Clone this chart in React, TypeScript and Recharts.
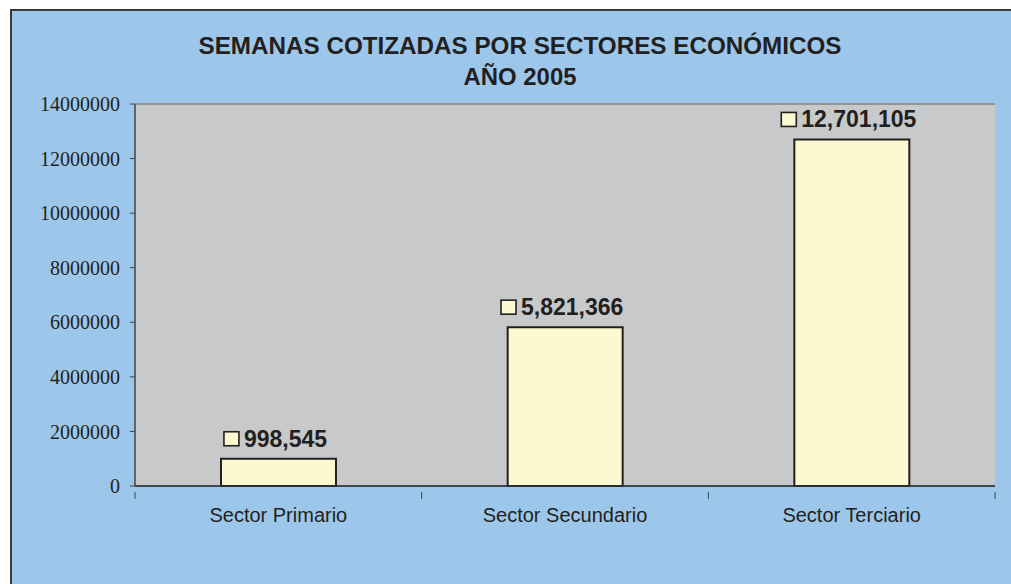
import { BarChart, Bar, XAxis, YAxis, CartesianGrid, LabelList, ReferenceLine } from 'recharts';

const categories = ['Sector Primario', 'Sector Secundario', 'Sector Terciario'];
const semanas = [998545, 5821366, 12701105];
const yTicks = [0, 2000000, 4000000, 6000000, 8000000, 10000000, 12000000, 14000000];
const titleLines = ['SEMANAS COTIZADAS POR SECTORES ECONÓMICOS', 'AÑO 2005'];

const data = categories.map((c, i) => ({ sector: c, semanas: semanas[i] }));

const BLUE = '#9DC7EA';
const PLOT = '#C8C9CB';
const BAR = '#FCF8CF';
const INK = '#231F20';
const SANS = "'Liberation Sans', Arial, sans-serif";

const fmt = (v: number) => v.toLocaleString('en-US');

// rough width of bold sans digits, used to centre the key square + value together
const textWidth = (s: string, size: number) =>
  s.split('').reduce((w, ch) => w + (ch === ',' ? 0.278 : 0.556), 0) * size;

function ValueLabel(props: any) {
  const { x, y, width, value } = props;
  const label = fmt(Number(value));
  const size = 23;
  const tw = textWidth(label, size);
  const sq = 15;
  const gap = 5;
  const total = sq + gap + tw;
  const left = x + width / 2 - total / 2 - 3;
  const base = y - 12;
  return (
    <g>
      <rect x={left} y={base - 15} width={sq} height={14} fill={BAR} stroke={INK} strokeWidth={1.6} />
      <text x={left + sq + gap} y={base} fontFamily={SANS} fontWeight="bold" fontSize={size} fill={INK}>
        {label}
      </text>
    </g>
  );
}

function CategoryTick(props: any) {
  const { x, y, payload, index, width } = props;
  const band = (width || 860) / categories.length;
  return (
    <g>
      {index === 0 && <line x1={x - band / 2} y1={y - 2} x2={x - band / 2} y2={y + 5} stroke="#444" strokeWidth={1} />}
      <line x1={x + band / 2} y1={y - 2} x2={x + band / 2} y2={y + 5} stroke="#444" strokeWidth={1} />
      <text x={x} y={y + 28} textAnchor="middle" fontFamily={SANS} fontSize={20} fill={INK}>
        {payload.value}
      </text>
    </g>
  );
}

export default function App() {
  return (
    <div style={{ position: 'fixed', left: 0, top: 0, width: 1011, height: 584, background: BLUE }}>
      {/* white page margin above and left of the framed chart */}
      <div style={{ position: 'absolute', left: 0, top: 0, width: 1011, height: 9, background: '#fff' }} />
      <div style={{ position: 'absolute', left: 0, top: 0, width: 10, height: 584, background: '#fff' }} />
      <div style={{ position: 'absolute', left: 10, top: 9, width: 1001, height: 2, background: '#3a3a3a' }} />
      <div style={{ position: 'absolute', left: 10, top: 9, width: 2, height: 575, background: '#3a3a3a' }} />
      <svg width={1011} height={100} style={{ position: 'absolute', left: 0, top: 0 }}>
        <text x={520} y={54} textAnchor="middle" textLength={643} lengthAdjust="spacingAndGlyphs" fontFamily={SANS} fontWeight="bold" fontSize={23} fill={INK}>
          {titleLines[0]}
        </text>
        <text x={520} y={85} textAnchor="middle" textLength={113} lengthAdjust="spacingAndGlyphs" fontFamily={SANS} fontWeight="bold" fontSize={23} fill={INK}>
          {titleLines[1]}
        </text>
      </svg>
      <div style={{ position: 'absolute', left: 0, top: 0 }}>
        <BarChart width={1011} height={584} data={data} margin={{ top: 104, right: 16, bottom: 58, left: 0 }} barCategoryGap="30%">
          <CartesianGrid vertical={false} fill={PLOT} fillOpacity={1} stroke="#3d3d3d" strokeWidth={1} />
          <XAxis dataKey="sector" height={40} axisLine={{ stroke: '#333', strokeWidth: 1.5 }} tickLine={false} tick={<CategoryTick />} interval={0} />
          <YAxis
            yAxisId="left"
            width={135}
            domain={[0, 14000000]}
            ticks={yTicks}
            interval={0}
            tickSize={5}
            tickMargin={10}
            axisLine={{ stroke: '#444', strokeWidth: 1.5 }}
            tickLine={{ stroke: '#444' }}
            tick={{ fontFamily: "'Liberation Serif', 'Times New Roman', serif", fontSize: 20, fill: INK }}
          />
          <YAxis yAxisId="right" orientation="right" width={0} domain={[0, 14000000]} tick={false} tickLine={false} axisLine={{ stroke: '#949494', strokeWidth: 2 }} />
          <ReferenceLine yAxisId="left" y={yTicks[yTicks.length - 1]} stroke="#949494" strokeWidth={2} />
          <Bar yAxisId="left" dataKey="semanas" fill={BAR} stroke={INK} strokeWidth={2} isAnimationActive={false}>
            <LabelList dataKey="semanas" content={<ValueLabel />} />
          </Bar>
        </BarChart>
      </div>
    </div>
  );
}
